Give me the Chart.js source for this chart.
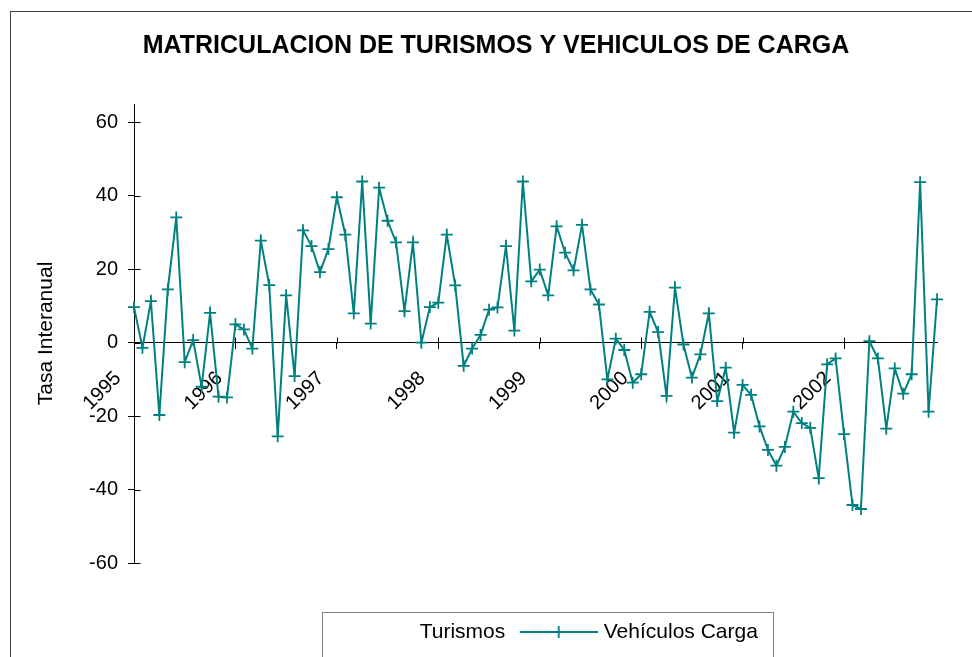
<!DOCTYPE html>
<html>
<head>
<meta charset="utf-8">
<script src="https://cdn.jsdelivr.net/npm/chart.js@4.4.0/dist/chart.umd.min.js"></script>
<style>
  html, body { margin: 0; padding: 0; background: #fff; }
</style>
</head>
<body>
<canvas id="chart" width="972" height="657"></canvas>
<script>
// Años del eje X (datos mensuales, enero de cada año marcado)
const years = ['1995', '1996', '1997', '1998', '1999', '2000', '2001', '2002'];

// Tasa interanual de vehículos de carga (mensual, ene-1995 .. dic-2002)
const vehiculosCarga = [
    9.7, -1.4, 11.3, -19.7, 14.5, 34.1, -5.3, 0.7, -12.0, 8.1, -14.7, -14.9,
    5.0, 3.6, -1.6, 27.8, 15.7, -25.5, 12.9, -9.1, 30.6, 26.3, 19.2, 25.5,
    39.6, 29.4, 8.0, 43.9, 5.2, 42.2, 33.2, 27.3, 8.6, 27.3, 0.0, 9.7,
    10.9, 29.4, 15.6, -6.3, -1.6, 2.1, 9.0, 9.6, 26.3, 3.3, 43.9, 16.7,
    19.9, 12.9, 31.7, 24.5, 19.7, 32.1, 14.5, 10.4, -10.0, 1.1, -2.0, -10.9,
    -8.6, 8.4, 2.9, -14.5, 15.0, -0.5, -9.5, -3.2, 8.0, -15.9, -6.8, -24.5,
    -11.5, -14.2, -22.8, -29.2, -33.5, -28.4, -18.8, -21.9, -23.2, -36.9, -5.9, -4.3,
    -24.9, -44.2, -45.3, 0.4, -4.3, -23.4, -7.0, -13.9, -8.6, 43.7, -18.8, 11.8
];

// La serie de turismos aparece en blanco en el original (no se ve)
const turismos = [];

// Marcas del eje Y; el eje sube un poco por encima de la ultima marca
const yTicks = [-60, -40, -20, 0, 20, 40, 60];
const yMin = -60;
const yMax = 65;

// Etiquetas mensuales
const labels = [];
years.forEach(y => {
    for (let m = 1; m <= 12; m++) {
        labels.push(y + '-' + String(m).padStart(2, '0'));
    }
});

Chart.defaults.font.family = "'Liberation Sans', Arial, sans-serif";
Chart.defaults.color = '#000';

// Muestra de la leyenda: línea con cruz (algo desplazada hacia el texto)
function legendSample(color, marker) {
    const c = document.createElement('canvas');
    c.width = 83;
    c.height = 14;
    const g = c.getContext('2d');
    g.strokeStyle = color;
    g.lineWidth = 2;
    g.beginPath();
    g.moveTo(5, 7);
    g.lineTo(83, 7);
    g.stroke();
    if (marker) {
        g.lineWidth = 1.8;
        g.beginPath();
        g.moveTo(38, 7);
        g.lineTo(50, 7);
        g.moveTo(44, 1);
        g.lineTo(44, 13);
        g.stroke();
    }
    return c;
}

const framePlugin = {
    id: 'frame',
    afterLayout(chart) {
        // la leyenda del original no esta centrada en el area del grafico
        chart.legend.left += 11;
        chart.legend.right += 11;
    },
    beforeDraw(chart) {
        const ctx = chart.ctx;
        ctx.save();
        ctx.fillStyle = '#fff';
        ctx.fillRect(0, 0, chart.width, chart.height);
        ctx.strokeStyle = '#404040';
        ctx.lineWidth = 1;
        ctx.strokeRect(10.5, 11.5, 1000, 1000);
        ctx.restore();
    },
    afterDraw(chart) {
        const ctx = chart.ctx;
        const xs = chart.scales.x;
        const ys = chart.scales.y;
        ctx.save();
        ctx.strokeStyle = '#000';
        ctx.lineWidth = 1;
        // marcas que cruzan el eje X
        const y0 = Math.round(ys.getPixelForValue(0)) + 0.5;
        xs.ticks.forEach((t, i) => {
            if (i % 12 !== 0 || i === 0) return;
            const px = Math.round(xs.getPixelForTick(i)) + 0.5;
            ctx.beginPath();
            ctx.moveTo(px, y0 - 6);
            ctx.lineTo(px, y0);
            ctx.stroke();
        });
        // marcas que cruzan el eje Y
        const x0 = Math.round(xs.left) + 0.5;
        ys.ticks.forEach((t, i) => {
            const py = Math.round(ys.getPixelForTick(i)) + 0.5;
            ctx.beginPath();
            ctx.moveTo(x0, py);
            ctx.lineTo(x0 + 6, py);
            ctx.stroke();
        });
        // recuadro de la leyenda
        const hb = chart.legend.legendHitBoxes;
        if (hb && hb.length) {
            const last = hb[hb.length - 1];
            const left = Math.round(hb[0].left - 13) + 0.5;
            const right = Math.round(last.left + last.width + 15) + 0.5;
            const top = Math.round(hb[0].top + hb[0].height / 2 - 20) + 0.5;
            ctx.strokeStyle = '#808080';
            ctx.strokeRect(left, top, right - left, 200);
        }
        ctx.restore();
    }
};

const ctx = document.getElementById('chart').getContext('2d');

new Chart(ctx, {
    type: 'line',
    data: {
        labels: labels,
        datasets: [
            {
                label: 'Turismos',
                data: turismos,
                borderColor: '#ffffff',
                backgroundColor: '#ffffff',
                borderWidth: 2,
                pointRadius: 0
            },
            {
                label: 'Vehículos Carga',
                data: vehiculosCarga,
                borderColor: '#008080',
                backgroundColor: '#008080',
                borderWidth: 2,
                tension: 0,
                pointStyle: 'cross',
                pointRadius: 6,
                pointBorderWidth: 1.8,
                pointBorderColor: '#008080'
            }
        ]
    },
    options: {
        responsive: false,
        devicePixelRatio: 1,
        animation: false,
        events: [],
        layout: {
            padding: { left: 53, right: 33, top: 0, bottom: 4.5 }
        },
        scales: {
            x: {
                type: 'category',
                position: { y: 0 },
                offset: false,
                border: { color: '#000', width: 1 },
                grid: {
                    drawOnChartArea: false,
                    tickLength: 6,
                    color: c => (c.index % 12 === 0 ? '#000' : 'rgba(0,0,0,0)')
                },
                ticks: {
                    autoSkip: false,
                    minRotation: 45,
                    maxRotation: 45,
                    padding: 18,
                    labelOffset: -16,
                    font: { size: 20 },
                    color: '#000',
                    callback: (v, i) => (i % 12 === 0 ? years[i / 12] : '')
                }
            },
            y: {
                min: yMin,
                max: yMax,
                border: { color: '#000', width: 1 },
                grid: { drawOnChartArea: false, tickLength: 6, color: '#000' },
                ticks: {
                    stepSize: 20,
                    padding: 10,
                    font: { size: 20 },
                    color: '#000'
                },
                afterBuildTicks: s => {
                    s.ticks = yTicks.map(v => ({ value: v }));
                },
                title: {
                    display: true,
                    text: 'Tasa Interanual',
                    font: { size: 21 },
                    color: '#000',
                    padding: { top: -19, bottom: 0 }
                },
                afterFit: s => { s.width = 81; }
            }
        },
        plugins: {
            title: {
                display: true,
                text: 'MATRICULACION DE TURISMOS Y VEHICULOS DE CARGA',
                color: '#000',
                font: { size: 25, weight: 'bold' },
                padding: { top: 31, bottom: 43 }
            },
            legend: {
                position: 'bottom',
                fullSize: false,
                onClick: null,
                title: {
                    display: true,
                    text: ' ',
                    color: 'rgba(0,0,0,0)',
                    font: { size: 10 },
                    padding: { top: 0, bottom: 32.5 }
                },
                labels: {
                    usePointStyle: true,
                    pointStyleWidth: 74,
                    padding: 14,
                    color: '#000',
                    font: { size: 21 },
                    generateLabels: chart => chart.data.datasets.map((ds, i) => ({
                        text: ds.label,
                        pointStyle: legendSample(ds.borderColor, i === 1),
                        fillStyle: 'rgba(0,0,0,0)',
                        strokeStyle: 'rgba(0,0,0,0)',
                        lineWidth: 0,
                        hidden: false,
                        fontColor: '#000',
                        datasetIndex: i
                    }))
                }
            },
            tooltip: { enabled: false }
        }
    },
    plugins: [framePlugin]
});
</script>
</body>
</html>
